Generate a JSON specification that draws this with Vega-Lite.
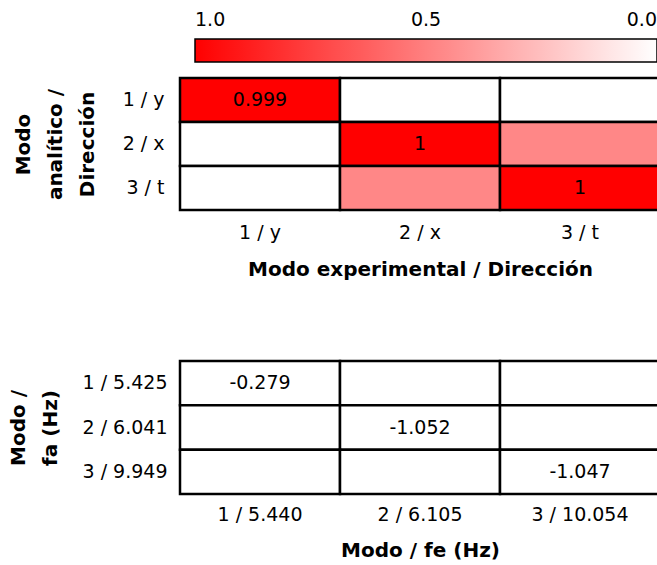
{
  "$schema": "https://vega.github.io/schema/vega-lite/v6.json",
  "padding": {"left": 8, "top": 39, "right": 0, "bottom": 0},
  "background": "#ffffff",
  "config": {
    "view": {"stroke": null},
    "font": "DejaVu Sans",
    "axis": {
      "domain": false, "ticks": false, "grid": false,
      "labelFont": "DejaVu Sans", "labelFontSize": 19, "labelColor": "#000000",
      "titleFont": "DejaVu Sans", "titleFontSize": 20, "titleFontWeight": "bold", "titleColor": "#000000"
    },
    "legend": {"labelFont": "DejaVu Sans", "labelColor": "#000000"}
  },
  "spacing": 80,
  "vconcat": [
    {
      "width": 480,
      "height": 132,
      "data": {"values": [
        {"exp": "1 / y", "ana": "1 / y", "mac": 0.999, "label": "0.999"},
        {"exp": "2 / x", "ana": "1 / y", "mac": 0.0, "label": ""},
        {"exp": "3 / t", "ana": "1 / y", "mac": 0.0, "label": ""},
        {"exp": "1 / y", "ana": "2 / x", "mac": 0.0, "label": ""},
        {"exp": "2 / x", "ana": "2 / x", "mac": 1.0, "label": "1"},
        {"exp": "3 / t", "ana": "2 / x", "mac": 0.47, "label": ""},
        {"exp": "1 / y", "ana": "3 / t", "mac": 0.0, "label": ""},
        {"exp": "2 / x", "ana": "3 / t", "mac": 0.47, "label": ""},
        {"exp": "3 / t", "ana": "3 / t", "mac": 1.0, "label": "1"}
      ]},
      "encoding": {
        "x": {"field": "exp", "type": "nominal", "sort": ["1 / y", "2 / x", "3 / t"],
              "scale": {"paddingInner": 0, "paddingOuter": 0},
              "axis": {"orient": "bottom", "labelAngle": 0, "labelPadding": 13, "title": "Modo experimental / Dirección", "titlePadding": 17}},
        "y": {"field": "ana", "type": "nominal", "sort": ["1 / y", "2 / x", "3 / t"],
              "scale": {"paddingInner": 0, "paddingOuter": 0},
              "axis": {"title": ["Modo", "analítico /", "Dirección"], "titleLineHeight": 32, "labelPadding": 16, "titlePadding": 25}}
      },
      "layer": [
        {
          "mark": {"type": "rect", "stroke": "#000000", "strokeWidth": 2.5},
          "encoding": {
            "color": {"field": "mac", "type": "quantitative",
                      "scale": {"domain": [1, 0], "range": ["#ff0000", "#ffffff"], "interpolate": "rgb"},
                      "legend": {"orient": "none", "legendX": 15, "legendY": -39, "direction": "horizontal",
                                 "gradientLength": 462, "gradientThickness": 23,
                                 "gradientStrokeColor": "#000000", "gradientStrokeWidth": 1.5,
                                 "labelFontSize": 19, "labelOffset": -51, "title": null,
                                 "values": [1, 0.5, 0], "format": ".1f"}}
          }
        },
        {
          "mark": {"type": "text", "fontSize": 19, "color": "#000000", "font": "DejaVu Sans"},
          "encoding": {"text": {"field": "label", "type": "nominal"}}
        }
      ]
    },
    {
      "width": 480,
      "height": 133,
      "data": {"values": [
        {"exp": "1 / 5.440", "ana": "1 / 5.425", "label": "-0.279"},
        {"exp": "2 / 6.105", "ana": "1 / 5.425", "label": ""},
        {"exp": "3 / 10.054", "ana": "1 / 5.425", "label": ""},
        {"exp": "1 / 5.440", "ana": "2 / 6.041", "label": ""},
        {"exp": "2 / 6.105", "ana": "2 / 6.041", "label": "-1.052"},
        {"exp": "3 / 10.054", "ana": "2 / 6.041", "label": ""},
        {"exp": "1 / 5.440", "ana": "3 / 9.949", "label": ""},
        {"exp": "2 / 6.105", "ana": "3 / 9.949", "label": ""},
        {"exp": "3 / 10.054", "ana": "3 / 9.949", "label": "-1.047"}
      ]},
      "encoding": {
        "x": {"field": "exp", "type": "nominal", "sort": ["1 / 5.440", "2 / 6.105", "3 / 10.054"],
              "scale": {"paddingInner": 0, "paddingOuter": 0},
              "axis": {"orient": "bottom", "labelAngle": 0, "labelPadding": 11, "title": "Modo / fe (Hz)", "titlePadding": 16}},
        "y": {"field": "ana", "type": "nominal", "sort": ["1 / 5.425", "2 / 6.041", "3 / 9.949"],
              "scale": {"paddingInner": 0, "paddingOuter": 0},
              "axis": {"title": ["Modo /", "fa (Hz)"], "titleLineHeight": 32, "labelPadding": 13, "titlePadding": 22}}
      },
      "layer": [
        {"mark": {"type": "rect", "fill": "#ffffff", "stroke": "#000000", "strokeWidth": 2.5}},
        {"mark": {"type": "text", "fontSize": 19, "color": "#000000", "font": "DejaVu Sans"},
         "encoding": {"text": {"field": "label", "type": "nominal"}}}
      ]
    }
  ]
}
